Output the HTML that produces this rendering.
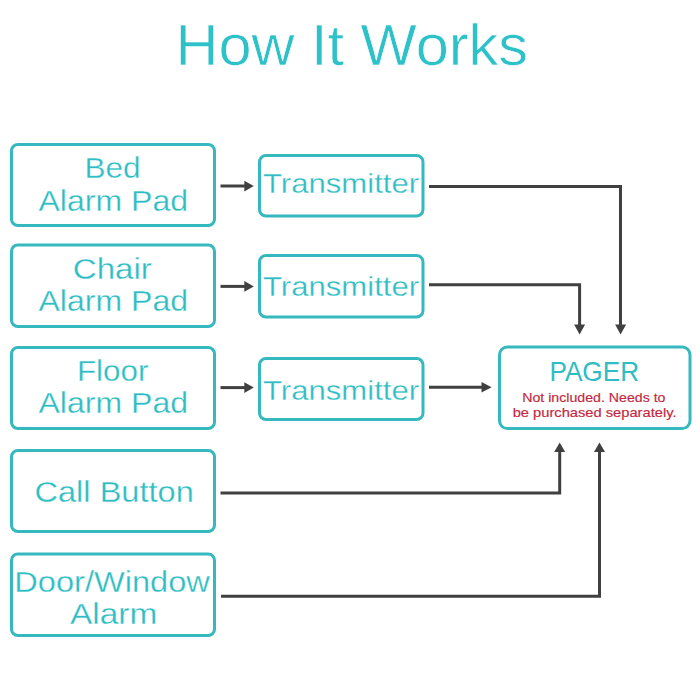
<!DOCTYPE html>
<html>
<head>
<meta charset="utf-8">
<style>
html,body{margin:0;padding:0;background:#fff;width:700px;height:700px;overflow:hidden;}
svg{display:block;}
text{font-family:"Liberation Sans",sans-serif;}
.thin{stroke:#fff;stroke-width:0.3px;}
.thinT{stroke:#fff;stroke-width:0.6px;}
.bold{stroke:#c4273e;stroke-width:0.15px;}
</style>
</head>
<body>
<svg width="700" height="700" viewBox="0 0 700 700">
<rect x="0" y="0" width="700" height="700" fill="#fff"/>
<g fill="none" stroke="#36b9be" stroke-width="3">
  <rect x="11.5" y="144.5" width="203" height="81" rx="6.3"/>
  <rect x="11.5" y="245" width="203" height="81.5" rx="6.3"/>
  <rect x="11.5" y="347.5" width="203" height="81" rx="6.3"/>
  <rect x="11.5" y="450.5" width="203" height="81" rx="6.3"/>
  <rect x="11.5" y="554" width="203" height="81.5" rx="6.3"/>
  <rect x="259.5" y="155.5" width="163.5" height="60.5" rx="6.5"/>
  <rect x="259.5" y="255.5" width="163.5" height="61.5" rx="6.5"/>
  <rect x="259.5" y="358.5" width="163.5" height="61" rx="6.5"/>
  <rect x="499.5" y="347" width="190.5" height="81.5" rx="7.8"/>
</g>
<text id="title" class="thinT" x="351.78" y="64.50" font-size="57.4" fill="#2fc1c8" text-anchor="middle" textLength="352.67" lengthAdjust="spacingAndGlyphs">How It Works</text>
<text id="Bed" class="thin" x="112.48" y="177.50" font-size="29.5" fill="#2ebdc3" text-anchor="middle" textLength="56.21" lengthAdjust="spacingAndGlyphs">Bed</text>
<text id="AP1" class="thin" x="113.28" y="210.60" font-size="29.5" fill="#2ebdc3" text-anchor="middle" textLength="149.58" lengthAdjust="spacingAndGlyphs">Alarm Pad</text>
<text id="Chair" class="thin" x="112.37" y="278.70" font-size="29.5" fill="#2ebdc3" text-anchor="middle" textLength="79.09" lengthAdjust="spacingAndGlyphs">Chair</text>
<text id="AP2" class="thin" x="113.28" y="310.70" font-size="29.5" fill="#2ebdc3" text-anchor="middle" textLength="149.58" lengthAdjust="spacingAndGlyphs">Alarm Pad</text>
<text id="Floor" class="thin" x="112.66" y="380.70" font-size="29.5" fill="#2ebdc3" text-anchor="middle" textLength="71.40" lengthAdjust="spacingAndGlyphs">Floor</text>
<text id="AP3" class="thin" x="113.28" y="412.70" font-size="29.5" fill="#2ebdc3" text-anchor="middle" textLength="149.58" lengthAdjust="spacingAndGlyphs">Alarm Pad</text>
<text id="Call" class="thin" x="114.15" y="502.30" font-size="29.5" fill="#2ebdc3" text-anchor="middle" textLength="159.31" lengthAdjust="spacingAndGlyphs">Call Button</text>
<text id="Door" class="thin" x="112.10" y="591.80" font-size="29.5" fill="#2ebdc3" text-anchor="middle" textLength="195.51" lengthAdjust="spacingAndGlyphs">Door/Window</text>
<text id="Alarm" class="thin" x="113.62" y="624.30" font-size="29.5" fill="#2ebdc3" text-anchor="middle" textLength="87.35" lengthAdjust="spacingAndGlyphs">Alarm</text>
<text id="Tx1" class="thin" x="341.05" y="193.30" font-size="28" fill="#2ebdc3" text-anchor="middle" textLength="156.10" lengthAdjust="spacingAndGlyphs">Transmitter</text>
<text id="Tx2" class="thin" x="341.05" y="295.90" font-size="28" fill="#2ebdc3" text-anchor="middle" textLength="156.10" lengthAdjust="spacingAndGlyphs">Transmitter</text>
<text id="Tx3" class="thin" x="341.05" y="399.70" font-size="28" fill="#2ebdc3" text-anchor="middle" textLength="156.10" lengthAdjust="spacingAndGlyphs">Transmitter</text>
<text id="PAGER" class="" x="594.27" y="381.40" font-size="28.5" fill="#2ebdc3" text-anchor="middle" textLength="89.76" lengthAdjust="spacingAndGlyphs">PAGER</text>
<text id="red1" class="bold" x="593.88" y="401.60" font-size="12.2" fill="#c4273e" text-anchor="middle" textLength="143.17" lengthAdjust="spacingAndGlyphs">Not included. Needs to</text>
<text id="red2" class="bold" x="594.63" y="416.80" font-size="12.2" fill="#c4273e" text-anchor="middle" textLength="163.84" lengthAdjust="spacingAndGlyphs">be purchased separately.</text>
<g fill="none" stroke="#404040" stroke-width="3" stroke-linejoin="miter">
  <line x1="220.5" y1="186" x2="246" y2="186"/>
  <line x1="220.5" y1="286.4" x2="246" y2="286.4"/>
  <line x1="220.5" y1="387.6" x2="246" y2="387.6"/>
  <polyline points="429,186.5 620.5,186.5 620.5,327"/>
  <polyline points="429,284.8 579.6,284.8 579.6,327"/>
  <line x1="429" y1="387.3" x2="483" y2="387.3"/>
  <polyline points="220.5,493 559.7,493 559.7,450"/>
  <polyline points="221,596.2 599.5,596.2 599.5,450"/>
</g>
<g fill="#404040">
  <polygon points="244.3,180.8 253.8,186.1 244.3,191.4"/>
  <polygon points="244.3,281.1 253.8,286.4 244.3,291.7"/>
  <polygon points="244.3,382.3 253.8,387.6 244.3,392.9"/>
  <polygon points="481.5,382 491.6,387.3 481.5,392.6"/>
  <polygon points="615.1,324.6 626.1,324.6 620.6,334.6"/>
  <polygon points="574.1,324.6 585.1,324.6 579.6,334.6"/>
  <polygon points="554.2,452 565.2,452 559.7,442.6"/>
  <polygon points="594,452 605,452 599.5,442.6"/>
</g>
</svg>
</body>
</html>
